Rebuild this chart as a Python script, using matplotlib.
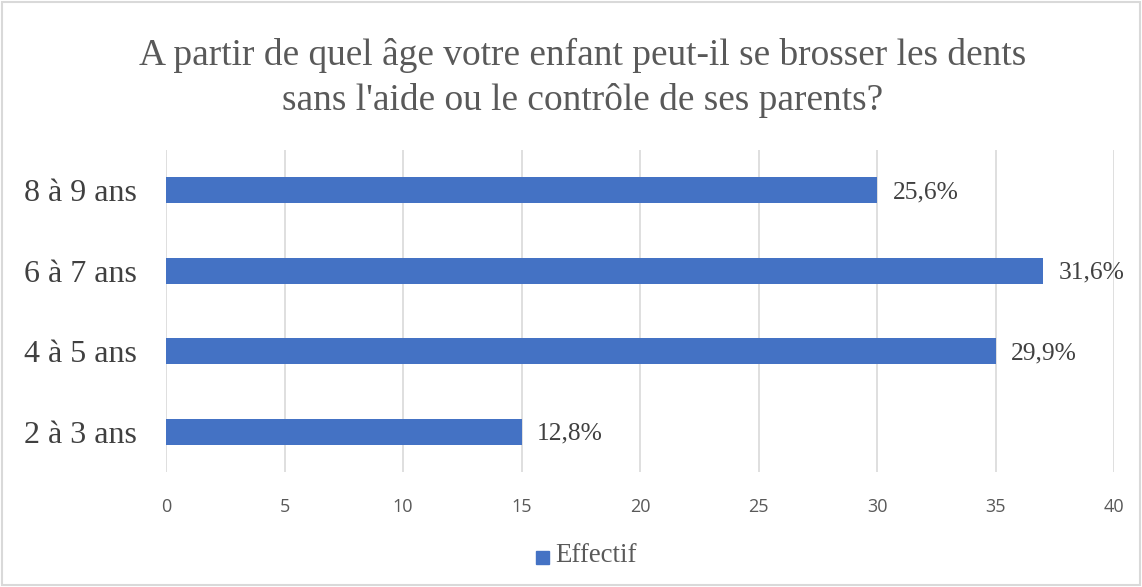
import numpy as np
import matplotlib
matplotlib.use("Agg")
import matplotlib.pyplot as plt
from matplotlib.patches import Rectangle
from matplotlib.transforms import offset_copy

# données
categories = ["2 à 3 ans", "4 à 5 ans", "6 à 7 ans", "8 à 9 ans"]
effectifs = [15, 35, 37, 30]
pourcentages = ["12,8%", "29,9%", "31,6%", "25,6%"]
xticks = [0, 5, 10, 15, 20, 25, 30, 35, 40]

bar_color = "#4472C4"
grid_color = "#d9d9d9"
text_color = "#404040"
serif = "Liberation Serif"

fig = plt.figure(figsize=(11.42, 5.87), dpi=100)
ax = fig.add_axes([0.1454, 0.1959, 0.9755 - 0.1454, 0.7445 - 0.1959])

y = np.arange(len(categories))
ax.barh(y, effectifs, height=0.32, color=bar_color, zorder=3)

# étiquettes de données, un peu plus bas que le centre de la barre
trans = offset_copy(ax.transData, fig=fig, x=0, y=-2, units="dots")
for yi, v, lab in zip(y, effectifs, pourcentages):
    ax.text(v + 0.65, yi, lab, va="center", ha="left", fontsize=18.4,
            family=serif, color=text_color, transform=trans)

ax.set_xlim(0, 40)
ax.set_ylim(-0.5, 3.5)
ax.set_xticks(xticks)
ax.set_xticklabels([str(t) for t in xticks], fontsize=13, family="Open Sans",
                   color="#595959")
ax.set_yticks(y)
ax.set_yticklabels(categories, fontsize=23, family=serif, color=text_color)
ax.tick_params(axis="both", length=0)
ax.tick_params(axis="x", pad=19)
ax.tick_params(axis="y", pad=21)
ax.grid(axis="x", color=grid_color, linewidth=1.2, zorder=0)
for s in ax.spines.values():
    s.set_visible(False)

fig.text(583 / 1142, 1 - 55 / 587, "A partir de quel âge votre enfant peut-il se brosser les dents",
         ha="center", va="center", fontsize=26.9, family=serif, color="#595959")
fig.text(583 / 1142, 1 - 100 / 587, "sans l'aide ou le contrôle de ses parents?",
         ha="center", va="center", fontsize=26.9, family=serif, color="#595959")

# légende
fig.patches.append(Rectangle((536 / 1142, 1 - 564 / 587), 13 / 1142, 13 / 587,
                             transform=fig.transFigure, color=bar_color))
fig.text(555 / 1142, 1 - 556 / 587, "Effectif", ha="left", va="center",
         fontsize=19.4, family=serif, color="#595959")

# bordure
fig.patches.append(Rectangle((0.002, 0.003), 0.996, 0.994, transform=fig.transFigure,
                             fill=False, edgecolor=grid_color, linewidth=1.5))

fig.savefig("out.png", dpi=100)
